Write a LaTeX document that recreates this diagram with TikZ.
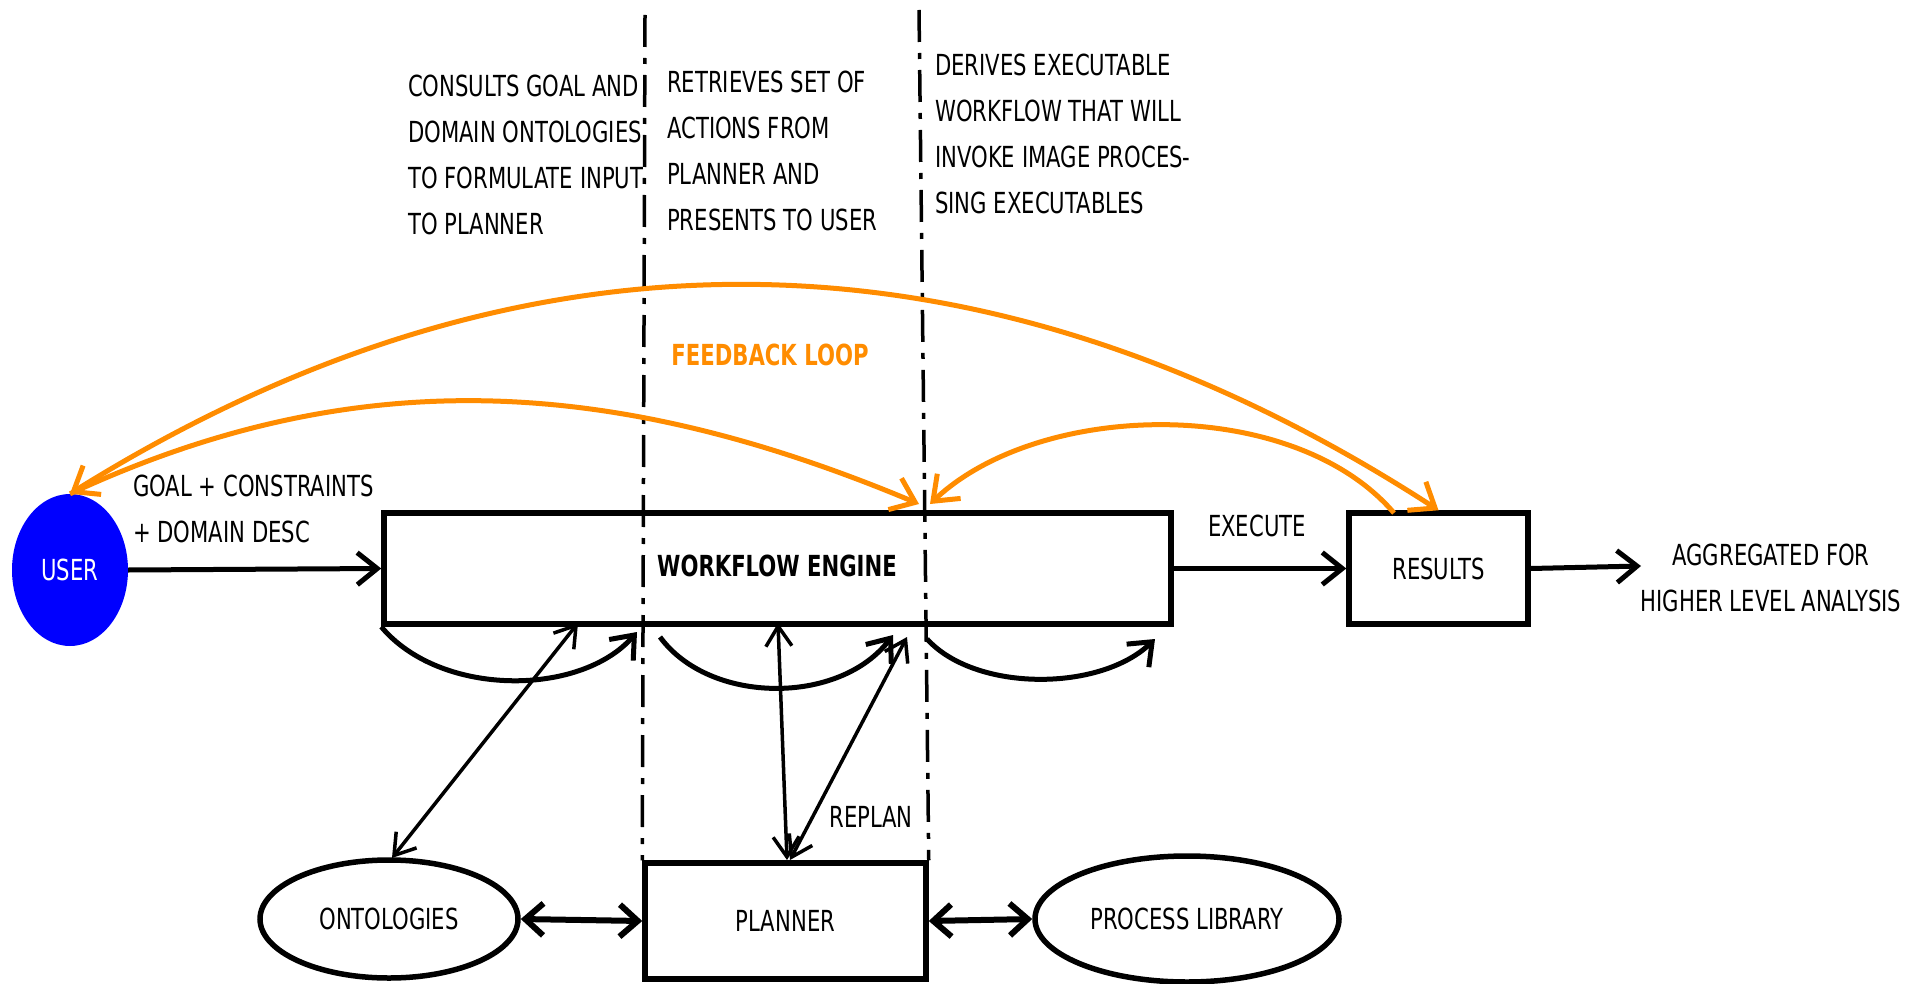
\documentclass[tikz,border=0pt]{standalone}
\usepackage{fontspec}
\setmainfont{DejaVu Sans}[FakeStretch=0.73]
\usetikzlibrary{arrows.meta,shapes.geometric}
\definecolor{fborange}{HTML}{FF8C00}
\definecolor{userblue}{HTML}{0000FF}
\begin{document}
\begin{tikzpicture}[x=1pt,y=-1pt,font=\fontsize{29}{46}\selectfont,
  boxnode/.style={draw,line width=5.5pt,inner sep=0pt},
  ellnode/.style={draw,ellipse,line width=5.5pt,inner sep=0pt},
  textblock/.style={align=left,anchor=west,inner sep=0pt},
  lbl/.style={inner sep=0pt},
  thickarr/.style={line width=5pt,-{Straight Barb[length=20pt,width=32pt]}},
  thickboth/.style={line width=6pt,{Straight Barb[length=18pt,width=32pt]}-{Straight Barb[length=18pt,width=32pt]}},
  thinboth/.style={line width=3.5pt,{Straight Barb[length=20pt,width=26pt]}-{Straight Barb[length=20pt,width=26pt]}},
  orangearr/.style={draw=fborange,line width=5pt},
  otip/.tip={Straight Barb[length=22pt,width=34pt]},
  dashdot/.style={line width=3.5pt,dash pattern=on 32pt off 11pt on 6pt off 11pt}]
\useasboundingbox (0,0) rectangle (1926,984);

% nodes
\node[fill=userblue,ellipse,minimum width=116pt,minimum height=152pt,inner sep=0pt,text=white] (user) at (70,570) {USER};
\node[boxnode,minimum width=787pt,minimum height=111pt] (we) at (777.5,568.5) {};
\node[lbl,font=\fontsize{29}{46}\selectfont\bfseries] (wetext) at (777,566) {WORKFLOW ENGINE};
\node[boxnode,minimum width=179pt,minimum height=111pt] (res) at (1438.5,568.5) {RESULTS};
\node[boxnode,minimum width=281pt,minimum height=116pt] (plan) at (785.5,921) {PLANNER};
\node[ellnode,minimum width=258pt,minimum height=118pt] (onto) at (389,919) {ONTOLOGIES};
\node[ellnode,minimum width=304pt,minimum height=126pt] (plib) at (1187,919) {PROCESS LIBRARY};

% dash-dot separators
\coordinate (d1top) at (645,15);
\coordinate (d2top) at (919,10);
\draw[dashdot] (d1top) -- (plan.north west);
\draw[dashdot] (d2top) -- (plan.north east);

% text blocks
\node[textblock] (t1) at (408,155) {CONSULTS GOAL AND\\DOMAIN ONTOLOGIES\\TO FORMULATE INPUT\\TO PLANNER};
\node[textblock] (t2) at (667,151) {RETRIEVES SET OF\\ACTIONS FROM\\PLANNER AND\\PRESENTS TO USER};
\node[textblock] (t3) at (935,134) {DERIVES EXECUTABLE\\WORKFLOW THAT WILL\\INVOKE IMAGE PROCES-\\SING EXECUTABLES};

% labels
\node[lbl,align=left,anchor=west] (goal) at (133,509) {GOAL + CONSTRAINTS\\+ DOMAIN DESC};
\node[lbl] (exec) at (1257,526) {EXECUTE};
\node[lbl,align=center] (aggr) at (1771,578) {AGGREGATED FOR\\HIGHER LEVEL ANALYSIS};
\node[lbl] (replan) at (871,817) {REPLAN};
\node[lbl,text=fborange,font=\fontsize{29}{46}\selectfont\bfseries] (fb) at (770,355) {FEEDBACK LOOP};

% main flow
\draw[thickarr] (user.east) -- (we.west);
\draw[thickarr] (we.east) -- (res.west);
\coordinate (aggrin) at (1641,566);
\draw[thickarr] (res.east) -- (aggrin);
\draw[thickboth] (onto.east) -- (plan.west);
\draw[thickboth] (plan.east) -- (plib.west);

% curved sequence arrows under the engine
\coordinate (a1e) at (637,632);
\coordinate (a2s) at (660,637);
\coordinate (a2e) at (893,635);
\coordinate (a3s) at (927,639);
\coordinate (a3e) at (1155,639);
\draw[thickarr] (we.south west) .. controls (440,697) and (580,697) .. (a1e);
\draw[thickarr] (a2s) .. controls (710,705) and (840,705) .. (a2e);
\draw[thickarr] (a3s) .. controls (975,692) and (1100,692) .. (a3e);

% planner / ontology links
\coordinate (ontotop) at (392,858);
\coordinate (weo) at (578,623);
\coordinate (wev) at (778,623);
\coordinate (planv) at (787,860);
\coordinate (planr) at (790,860);
\coordinate (wer) at (907,637);
\draw[thinboth] (ontotop) -- (weo);
\draw[thinboth] (planv) -- (wev);
\draw[thinboth] (planr) -- (wer);

% feedback loop arcs
\coordinate (resfb) at (1394,513);
\coordinate (wefb1) at (919,504);
\coordinate (wefb2) at (930,504);
\draw[orangearr,{otip}-{otip}] (user.north) .. controls (520,213) and (980,213) .. (res.north);
\draw[orangearr,-{otip}] (user.north) .. controls (352,363) and (609,374) .. (wefb1);
\draw[orangearr,-{otip}] (resfb) .. controls (1293,395) and (1040,400) .. (wefb2);
\end{tikzpicture}
\end{document}
